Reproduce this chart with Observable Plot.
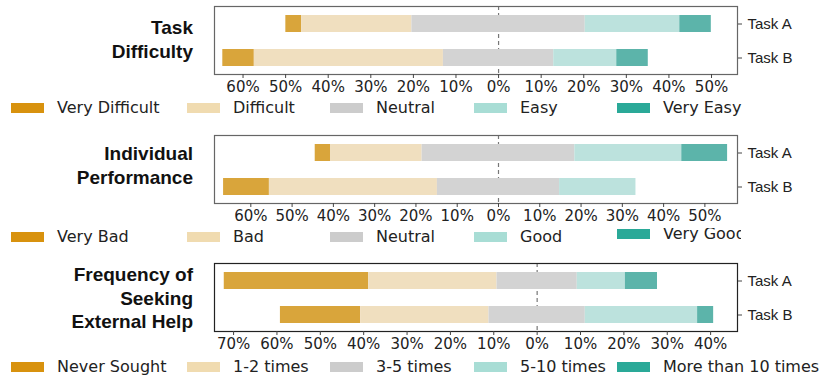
<!DOCTYPE html>
<html>
<head>
<meta charset="utf-8">
<script src="https://cdn.jsdelivr.net/npm/d3@7"></script>
<script src="https://cdn.jsdelivr.net/npm/@observablehq/plot@0.6"></script>
<style>
  html, body { margin: 0; padding: 0; background: #fff; }
  #root { position: relative; width: 831px; height: 385px; overflow: hidden; font-family: "DejaVu Sans", sans-serif; }
  .panel { position: absolute; left: 0; }
  .title { position: absolute; left: 0; width: 193px; text-align: right; font-family: "Liberation Sans", Arial, sans-serif; font-weight: bold; font-size: 19px; line-height: 23.5px; color: #111; }
  .legend { position: absolute; left: 0; height: 22px; overflow: hidden; }
  .sw { position: absolute; width: 33px; height: 10px; }
  .lt { position: absolute; font-family: "DejaVu Sans", sans-serif; font-size: 16px; line-height: 16px; color: #222; white-space: nowrap; }
</style>
</head>
<body>
<div id="root"></div>
<script>
// ---- data ----
const tasks = ["Task A", "Task B"];

const difficultyCats = ["Very Difficult", "Difficult", "Neutral", "Easy", "Very Easy"];
const difficultyA = [3.7, 25.9, 40.7, 22.2, 7.4];
const difficultyB = [7.4, 44.4, 25.9, 14.8, 7.4];
const difficultyTicks = [-60, -50, -40, -30, -20, -10, 0, 10, 20, 30, 40, 50];

const performanceCats = ["Very Bad", "Bad", "Neutral", "Good", "Very Good"];
const performanceA = [3.7, 22.2, 37.0, 25.9, 11.1];
const performanceB = [11.1, 40.7, 29.6, 18.5, 0];
const performanceTicks = [-60, -50, -40, -30, -20, -10, 0, 10, 20, 30, 40, 50];

const helpCats = ["Never Sought", "1-2 times", "3-5 times", "5-10 times", "More than 10 times"];
const helpA = [33.3, 29.6, 18.5, 11.1, 7.4];
const helpB = [18.5, 29.6, 22.2, 25.9, 3.7];
const helpTicks = [-70, -60, -50, -40, -30, -20, -10, 0, 10, 20, 30, 40];

const titles = [["Task", "Difficulty"], ["Individual", "Performance"], ["Frequency of", "Seeking", "External Help"]];

const barColors = ["#D9A53B", "#F0DFBF", "#D3D3D3", "#BCE2DD", "#5CB4AA"];
const legendColors = ["#D8920E", "#F0DBB0", "#CCCCCC", "#A8DDD5", "#2AA998"];

// ---- build rows: neutral split around zero ----
function stackRows(cats, a, b) {
  const rows = [];
  [[tasks[0], a], [tasks[1], b]].forEach(([task, vals]) => {
    let start = -(vals[0] + vals[1] + vals[2] / 2);
    vals.forEach((v, i) => {
      if (v > 0) rows.push({ task, cat: cats[i], x1: start, x2: start + v });
      start += v;
    });
  });
  return rows;
}

const panels = [
  { cats: difficultyCats, a: difficultyA, b: difficultyB, ticks: difficultyTicks, domain: [-66.7, 56.1], top: 0, frame: "#666", legendTop: 99, titleTop: 16, clip: 831 },
  { cats: performanceCats, a: performanceA, b: performanceB, ticks: performanceTicks, domain: [-68.8, 57.9], top: 129, frame: "#666", legendTop: 228, titleTop: 142, clip: 741 },
  { cats: helpCats, a: helpA, b: helpB, ticks: helpTicks, domain: [-74.4, 46.2], top: 257, frame: "#222", legendTop: 358, titleTop: 263, clip: 831 }
];

const root = document.getElementById("root");
const swatchX = [11, 187, 330, 474, 617];

panels.forEach((p, k) => {
  const rows = stackRows(p.cats, p.a, p.b);
  const chart = Plot.plot({
    width: 831,
    height: 100,
    marginLeft: 214,
    marginRight: 94,
    marginTop: 6,
    marginBottom: 26,
    style: { background: "transparent", color: "#222" },
    x: { domain: p.domain },
    y: { domain: tasks, paddingInner: 0.5, paddingOuter: 0.25 },
    color: { domain: p.cats, range: barColors },
    marks: [
      Plot.ruleX([0], { stroke: "#777", strokeWidth: 1.2, strokeDasharray: "4,3" }),
      Plot.barX(rows, { x1: "x1", x2: "x2", y: "task", fill: "cat" }),
      Plot.frame({ stroke: p.frame, strokeWidth: 1.2 }),
      Plot.axisX({ ticks: p.ticks, tickFormat: d => Math.abs(d) + "%", tickSize: 4, tickPadding: 3, fontSize: 15, fontFamily: "DejaVu Sans", label: null, stroke: "#444", fill: "#222" }),
      Plot.axisY({ anchor: "right", tickSize: 4, tickPadding: 6, fontSize: 15, fontFamily: "Liberation Sans, Arial, sans-serif", label: null, stroke: "#444", fill: "#222" })
    ]
  });
  chart.classList.add("panel");
  chart.style.top = p.top + "px";
  root.appendChild(chart);

  const t = document.createElement("div");
  t.className = "title";
  t.style.top = p.titleTop + "px";
  t.innerHTML = titles[k].join("<br>");
  root.appendChild(t);

  const lg = document.createElement("div");
  lg.className = "legend";
  lg.style.top = p.legendTop + "px";
  lg.style.width = p.clip + "px";
  p.cats.forEach((c, i) => {
    const dy = (k === 1 && i === 4) ? -3 : 0;
    const sw = document.createElement("div");
    sw.className = "sw";
    sw.style.left = swatchX[i] + "px";
    sw.style.top = (4 + dy) + "px";
    sw.style.background = legendColors[i];
    lg.appendChild(sw);
    const tx = document.createElement("div");
    tx.className = "lt";
    tx.style.left = (swatchX[i] + 46) + "px";
    tx.style.top = (1 + dy) + "px";
    tx.textContent = c;
    lg.appendChild(tx);
  });
  root.appendChild(lg);
});
</script>
</body>
</html>
